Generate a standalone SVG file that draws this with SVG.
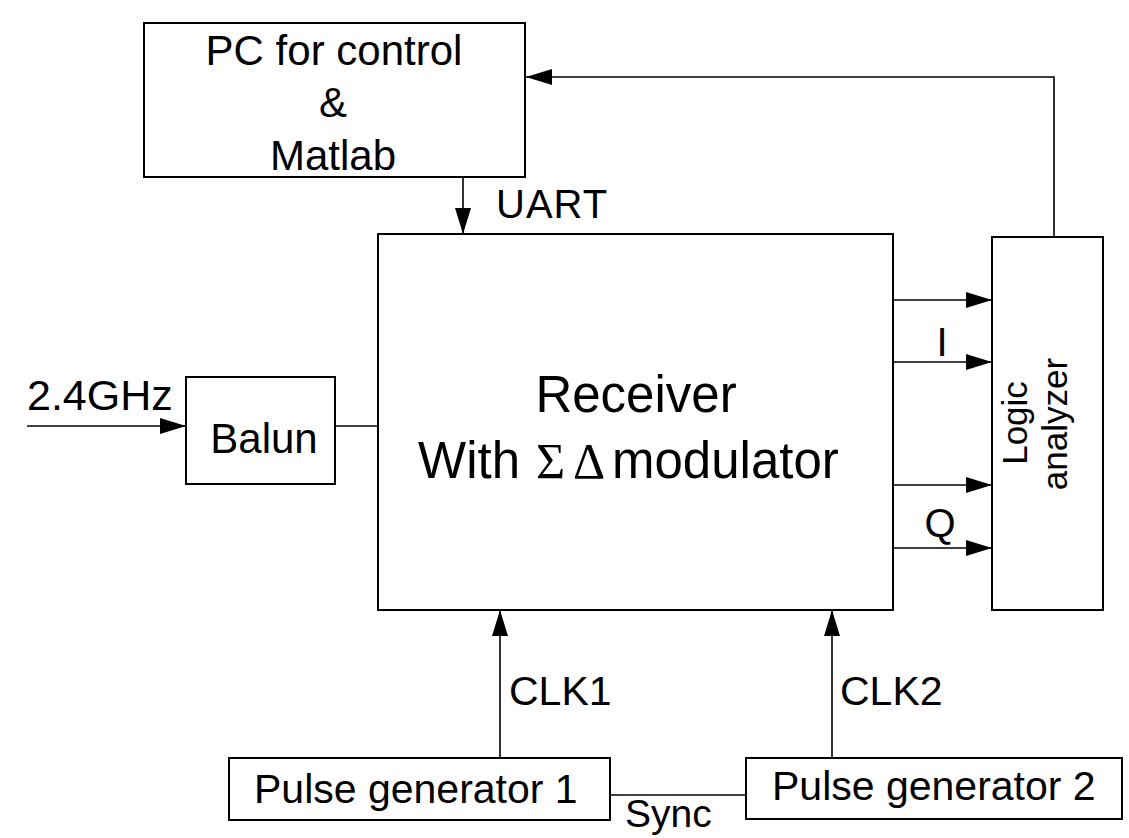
<svg xmlns="http://www.w3.org/2000/svg" width="1129" height="838" viewBox="0 0 1129 838">
<style>
.box{fill:#fff;stroke:#000;stroke-width:2}
.ln{fill:none;stroke:#000;stroke-width:1.6}
.t{font-family:"Liberation Sans",Arial,sans-serif;fill:#000}
.sym{font-family:"Liberation Serif","Times New Roman",serif;fill:#000}
</style>
<defs>
<marker id="arr" viewBox="0 0 26 16" refX="26" refY="8" markerWidth="26" markerHeight="16" markerUnits="userSpaceOnUse" orient="auto">
<path d="M0 0 L26 8 L0 16 Z" fill="#000"/>
</marker>
</defs>
<rect width="1129" height="838" fill="#fff"/>
<g id="connectors">
<path class="ln" d="M1054 237 V77 H526" marker-end="url(#arr)"/>
<path class="ln" d="M463 177 V234" marker-end="url(#arr)"/>
<path class="ln" d="M27 426 H186" marker-end="url(#arr)"/>
<path class="ln" d="M335 426 H378"/>
<path class="ln" d="M893 300 H992" marker-end="url(#arr)"/>
<path class="ln" d="M893 362 H992" marker-end="url(#arr)"/>
<path class="ln" d="M893 485 H992" marker-end="url(#arr)"/>
<path class="ln" d="M893 548 H992" marker-end="url(#arr)"/>
<path class="ln" d="M500 758 V610" marker-end="url(#arr)"/>
<path class="ln" d="M832 758 V610" marker-end="url(#arr)"/>
<path class="ln" d="M610 795 H746"/>
<text class="t" x="496" y="218" font-size="40" letter-spacing="1">UART</text>
<text class="t" x="27" y="410" font-size="43">2.4GHz</text>
<text class="t" x="942" y="356" font-size="40" text-anchor="middle">I</text>
<text class="t" x="940" y="537" font-size="40" text-anchor="middle">Q</text>
<text class="t" x="509" y="705" font-size="41">CLK1</text>
<text class="t" x="840" y="705" font-size="41">CLK2</text>
<text class="t" x="625" y="827" font-size="39">Sync</text>
</g>
<g id="pc">
<rect class="box" x="144" y="23" width="381" height="154"/>
<text class="t" x="334" y="65" font-size="42" text-anchor="middle">PC for control</text>
<text class="t" x="333" y="117" font-size="42" text-anchor="middle">&amp;</text>
<text class="t" x="333" y="170" font-size="42" text-anchor="middle">Matlab</text>
</g>
<g id="balun">
<rect class="box" x="186" y="377" width="149" height="107"/>
<text class="t" x="264" y="453" font-size="42" text-anchor="middle">Balun</text>
</g>
<g id="receiver">
<rect class="box" x="378" y="234" width="515" height="376"/>
<text class="t" x="636" y="412" font-size="51" text-anchor="middle">Receiver</text>
<text class="t" x="418" y="478" font-size="51">With<tspan class="sym" x="536" font-size="50">Σ</tspan><tspan class="sym" x="573" font-size="50">Δ</tspan><tspan x="612">modulator</tspan></text>
</g>
<g id="logic">
<rect class="box" x="992" y="237" width="111" height="373"/>
<text class="t" transform="translate(1027,423) rotate(-90)" font-size="35" text-anchor="middle">Logic</text>
<text class="t" transform="translate(1067,424) rotate(-90)" font-size="35" text-anchor="middle">analyzer</text>
</g>
<g id="pg1">
<rect class="box" x="229" y="758" width="381" height="62"/>
<text class="t" x="254" y="803" font-size="41">Pulse generator 1</text>
</g>
<g id="pg2">
<rect class="box" x="746" y="758" width="376" height="61"/>
<text class="t" x="772" y="800" font-size="41">Pulse generator 2</text>
</g>
</svg>
